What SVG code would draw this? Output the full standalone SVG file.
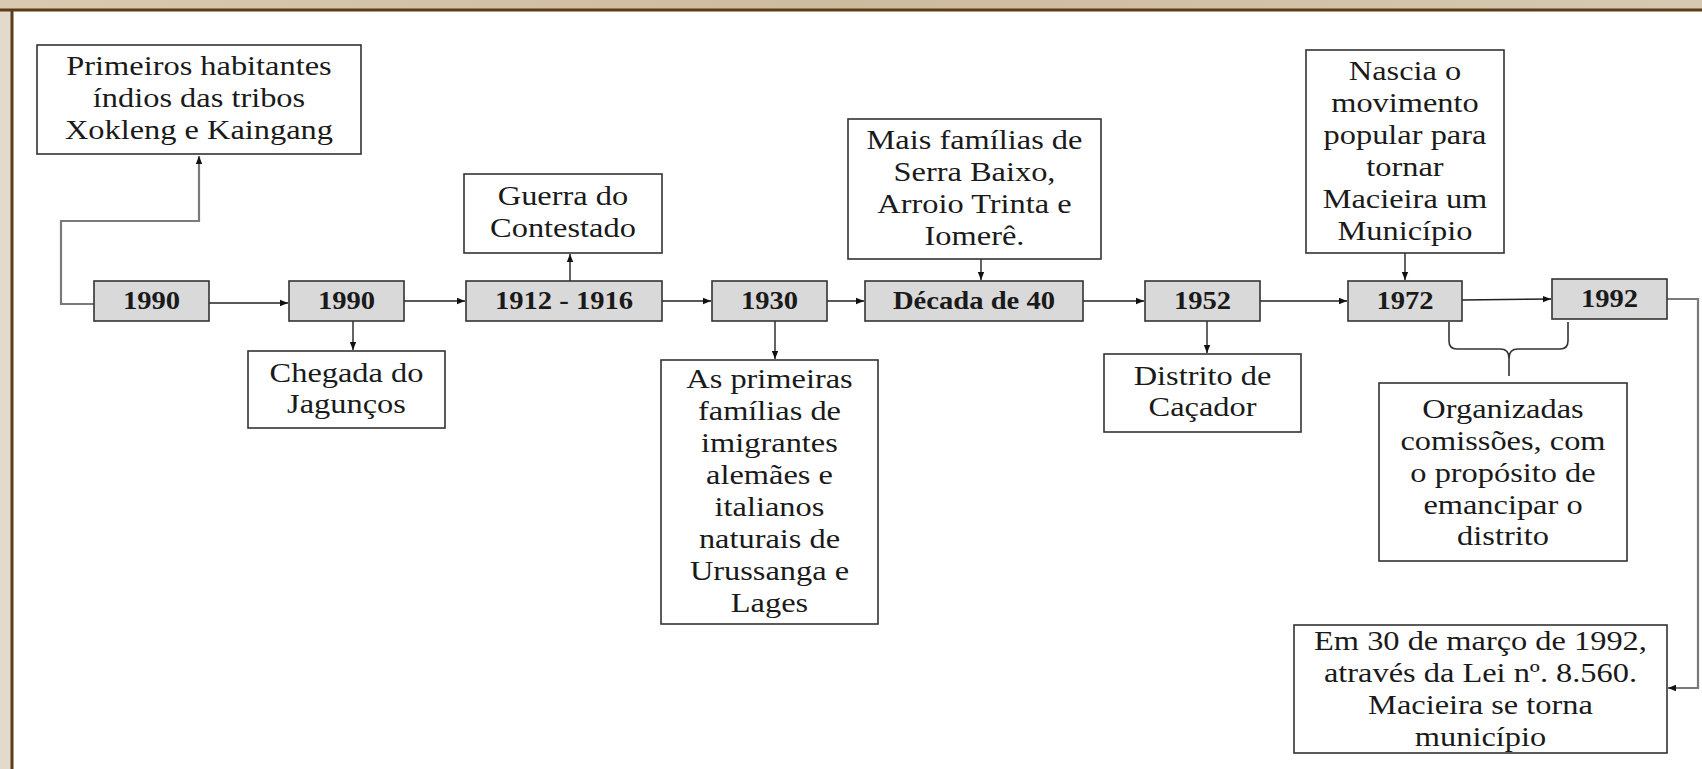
<svg xmlns="http://www.w3.org/2000/svg" width="1702" height="769" viewBox="0 0 1702 769">
<defs>
<linearGradient id="bg" x1="0" y1="0" x2="1" y2="0">
<stop offset="0" stop-color="#d8c9b0"/>
<stop offset="0.5" stop-color="#cdbb9e"/>
<stop offset="1" stop-color="#d6c8b2"/>
</linearGradient>
<marker id="ah" viewBox="0 0 10 10" refX="10" refY="5" markerWidth="8" markerHeight="8" markerUnits="userSpaceOnUse" orient="auto">
<path d="M0,1 L10,5 L0,9 Z" fill="#111"/>
</marker>
<style>
.yr{fill:#d9d9d9;stroke:#333;stroke-width:1.6}
.bx{fill:#fff;stroke:#333;stroke-width:1.6}
.t{font-family:"Liberation Serif","Times New Roman",serif;font-size:27px;fill:#1a1a1a;text-anchor:middle}
.y{font-family:"Liberation Serif","Times New Roman",serif;font-size:26px;font-weight:bold;fill:#1a1a1a;text-anchor:middle}
.c{fill:none;stroke:#222;stroke-width:1.4;marker-end:url(#ah)}
.g{fill:none;stroke:#7a7a7a;stroke-width:2.2;marker-end:url(#ah)}
.br{fill:none;stroke:#333;stroke-width:1.6}
</style>
</defs>
<rect x="0" y="0" width="1702" height="769" fill="url(#bg)"/>
<rect x="0" y="10" width="12" height="759" fill="#e3dacd"/>
<rect x="12" y="10" width="1690" height="759" fill="#fff"/>
<line x1="0" y1="10" x2="1702" y2="10" stroke="#5c3d17" stroke-width="3"/>
<line x1="12" y1="9" x2="12" y2="769" stroke="#5c3d17" stroke-width="3"/>

<g id="connectors">
<path class="g" d="M94,304 H61 V221 H199 V156"/>
<path class="c" d="M209,303 H288"/>
<path class="c" d="M353,321 V350"/>
<path class="c" d="M404,301 H465"/>
<path class="c" d="M570,281 V254"/>
<path class="c" d="M662,301 H711"/>
<path class="c" d="M775,321 V359"/>
<path class="c" d="M827,301 H864"/>
<path class="c" d="M981,259 V280"/>
<path class="c" d="M1083,301 H1144"/>
<path class="c" d="M1207,321 V353"/>
<path class="c" d="M1260,301 H1347"/>
<path class="c" d="M1405,253 V280"/>
<path class="c" d="M1462,300 L1551,299"/>
<path class="g" d="M1667,299 H1698 V688 H1668"/>
<path class="br" d="M1449,322 V341 Q1449,349 1457,349 H1500 Q1509,349 1509,358 V376"/>
<path class="br" d="M1568,322 V341 Q1568,349 1560,349 H1518 Q1509,349 1509,358"/>
</g>

<g id="n-1990a"><rect class="yr" x="94" y="281" width="115" height="40"/><text class="y" transform="scale(1.1,1)" x="137.73" y="309">1990</text></g>
<g id="n-1990b"><rect class="yr" x="289" y="281" width="115" height="40"/><text class="y" transform="scale(1.1,1)" x="315" y="309">1990</text></g>
<g id="n-1912"><rect class="yr" x="466" y="281" width="196" height="40"/><text class="y" transform="scale(1.1,1)" x="512.73" y="309">1912 - 1916</text></g>
<g id="n-1930"><rect class="yr" x="712" y="281" width="115" height="40"/><text class="y" transform="scale(1.1,1)" x="699.55" y="309">1930</text></g>
<g id="n-dec40"><rect class="yr" x="865" y="281" width="218" height="40"/><text class="y" transform="scale(1.1,1)" x="885.45" y="309">Década de 40</text></g>
<g id="n-1952"><rect class="yr" x="1145" y="281" width="115" height="40"/><text class="y" transform="scale(1.1,1)" x="1093.18" y="309">1952</text></g>
<g id="n-1972"><rect class="yr" x="1348" y="281" width="114" height="40"/><text class="y" transform="scale(1.1,1)" x="1277.27" y="309">1972</text></g>
<g id="n-1992"><rect class="yr" x="1552" y="279" width="115" height="40"/><text class="y" transform="scale(1.1,1)" x="1463.18" y="307">1992</text></g>

<g id="n-primeiros"><rect class="bx" x="37" y="45" width="324" height="109"/>
<text class="t" transform="scale(1.2,1)"><tspan x="165.83" y="75">Primeiros habitantes</tspan><tspan x="165.83" y="107">índios das tribos</tspan><tspan x="165.83" y="139">Xokleng e Kaingang</tspan></text></g>

<g id="n-guerra"><rect class="bx" x="464" y="174" width="198" height="79"/>
<text class="t" transform="scale(1.2,1)"><tspan x="469.17" y="205">Guerra do</tspan><tspan x="469.17" y="237">Contestado</tspan></text></g>

<g id="n-mais"><rect class="bx" x="848" y="119" width="253" height="140"/>
<text class="t" transform="scale(1.2,1)"><tspan x="812.08" y="149">Mais famílias de</tspan><tspan x="812.08" y="181">Serra Baixo,</tspan><tspan x="812.08" y="213">Arroio Trinta e</tspan><tspan x="812.08" y="245">Iomerê.</tspan></text></g>

<g id="n-nascia"><rect class="bx" x="1306" y="50" width="198" height="203"/>
<text class="t" transform="scale(1.2,1)"><tspan x="1170.83" y="80">Nascia o</tspan><tspan x="1170.83" y="112">movimento</tspan><tspan x="1170.83" y="144">popular para</tspan><tspan x="1170.83" y="176">tornar</tspan><tspan x="1170.83" y="208">Macieira um</tspan><tspan x="1170.83" y="240">Município</tspan></text></g>

<g id="n-chegada"><rect class="bx" x="248" y="351" width="197" height="77"/>
<text class="t" transform="scale(1.2,1)"><tspan x="288.75" y="382">Chegada do</tspan><tspan x="288.75" y="413">Jagunços</tspan></text></g>

<g id="n-primeiras"><rect class="bx" x="661" y="360" width="217" height="264"/>
<text class="t" transform="scale(1.2,1)"><tspan x="641.25" y="388">As primeiras</tspan><tspan x="641.25" y="420">famílias de</tspan><tspan x="641.25" y="452">imigrantes</tspan><tspan x="641.25" y="484">alemães e</tspan><tspan x="641.25" y="516">italianos</tspan><tspan x="641.25" y="548">naturais de</tspan><tspan x="641.25" y="580">Urussanga e</tspan><tspan x="641.25" y="612">Lages</tspan></text></g>

<g id="n-distrito"><rect class="bx" x="1104" y="354" width="197" height="78"/>
<text class="t" transform="scale(1.2,1)"><tspan x="1002.08" y="385">Distrito de</tspan><tspan x="1002.08" y="416">Caçador</tspan></text></g>

<g id="n-organizadas"><rect class="bx" x="1379" y="383" width="248" height="178"/>
<text class="t" transform="scale(1.2,1)"><tspan x="1252.5" y="418">Organizadas</tspan><tspan x="1252.5" y="450">comissões, com</tspan><tspan x="1252.5" y="482">o propósito de</tspan><tspan x="1252.5" y="514">emancipar o</tspan><tspan x="1252.5" y="545">distrito</tspan></text></g>

<g id="n-em30"><rect class="bx" x="1294" y="625" width="373" height="128"/>
<text class="t" transform="scale(1.2,1)"><tspan x="1233.75" y="650">Em 30 de março de 1992,</tspan><tspan x="1233.75" y="682">através da Lei nº. 8.560.</tspan><tspan x="1233.75" y="714">Macieira se torna</tspan><tspan x="1233.75" y="746">município</tspan></text></g>
</svg>
